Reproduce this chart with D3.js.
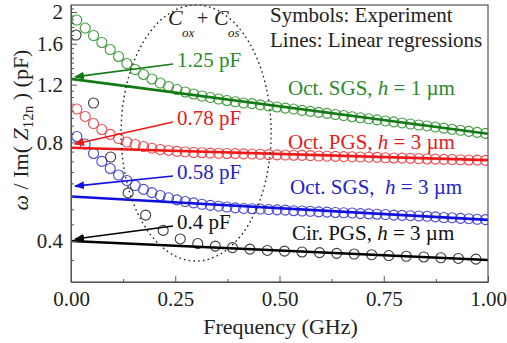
<!DOCTYPE html>
<html><head><meta charset="utf-8">
<script src="https://cdn.jsdelivr.net/npm/d3@7"></script>
<style>
html,body{margin:0;padding:0;background:#fff;}
svg{display:block;font-family:"Liberation Serif","Times New Roman",serif;}
</style></head><body>
<svg id="chart" width="507" height="343"></svg>
<script>
// Frequency sweep (GHz) for the octagonal inductors
const freqOct = [0.014,0.034,0.054,0.074,0.094,0.114,0.134,0.154,0.174,0.194,
  0.214,0.234,0.254,0.274,0.294,0.314,0.334,0.354,0.374,0.394,
  0.414,0.434,0.454,0.474,0.494,0.514,0.534,0.554,0.574,0.594,
  0.614,0.634,0.654,0.674,0.694,0.714,0.734,0.754,0.774,0.794,
  0.814,0.834,0.854,0.874,0.894,0.914,0.934,0.954,0.974,0.994];
// Frequency sweep (GHz) for the circular inductor
const freqCir = [0.012,0.054,0.095,0.137,0.179,0.221,0.262,0.304,0.346,0.387,0.429,0.471,
  0.512,0.554,0.596,0.637,0.679,0.721,0.762,0.804,0.846,0.887,0.929,0.971];

// Measured omega / Im(Z12n) in pF
const octSgs1 = [1.889,1.786,1.695,1.614,1.536,1.463,1.392,1.335,1.289,1.249,
  1.214,1.185,1.160,1.140,1.124,1.108,1.096,1.085,1.074,1.064,
  1.055,1.050,1.041,1.033,1.026,1.018,1.011,1.002,0.995,0.988,
  0.981,0.973,0.966,0.958,0.951,0.944,0.937,0.930,0.924,0.917,
  0.910,0.904,0.898,0.891,0.884,0.877,0.871,0.864,0.858,0.852];
const octPgs3 = [1.011,0.960,0.913,0.876,0.846,0.822,0.802,0.788,0.777,0.768,
  0.761,0.756,0.751,0.748,0.745,0.744,0.742,0.741,0.740,0.739,
  0.738,0.737,0.736,0.734,0.733,0.732,0.731,0.730,0.729,0.727,
  0.726,0.725,0.724,0.723,0.722,0.721,0.720,0.718,0.717,0.716,
  0.715,0.714,0.712,0.711,0.710,0.709,0.708,0.707,0.706,0.705];
const octSgs3 = [0.834,0.791,0.740,0.700,0.666,0.636,0.612,0.591,0.575,0.562,
  0.551,0.542,0.534,0.528,0.523,0.518,0.514,0.511,0.508,0.505,
  0.503,0.502,0.501,0.499,0.498,0.497,0.495,0.494,0.493,0.491,
  0.490,0.489,0.488,0.487,0.485,0.484,0.483,0.482,0.480,0.479,
  0.478,0.477,0.476,0.474,0.472,0.471,0.469,0.468,0.466,0.465];
const cirPgs3 = [1.701,1.055,0.722,0.561,0.480,0.431,0.406,0.393,0.386,0.382,0.378,0.3745,
  0.3726,0.3705,0.3687,0.3669,0.3651,0.3633,0.3612,0.3595,0.3577,0.3557,0.3540,0.3522];

// Linear regression lines, evaluated at 0 and 1 GHz
const fitFreq = [0, 1];
const fitSgs1 = [1.25, 0.85];
const fitPgs3 = [0.77, 0.706];
const fitSgs3 = [0.547, 0.464];
const fitCir = [0.40, 0.350];

// Extrapolated Cox + Cos values (pF)
const interceptLabels = ["1.25 pF", "0.78 pF", "0.58 pF", "0.4 pF"];
const interceptValues = [1.25, 0.78, 0.58, 0.4];

const seriesNames = ["Oct. SGS, h = 1 \u00b5m", "Oct. PGS, h = 3 \u00b5m", "Oct. SGS,  h = 3 \u00b5m", "Cir. PGS, h = 3 \u00b5m"];

const xTickValues = [0, 0.25, 0.5, 0.75, 1];
const xTickLabels = ["0.00", "0.25", "0.50", "0.75", "1.00"];
const yTickValues = [0.4, 0.8, 1.2, 1.6, 2];
const yTickLabels = ["0.4", "0.8", "1.2", "1.6", "2"];

const svg = d3.select("#chart");
const W = 507, H = 343;
const m = {left: 71, right: 19, top: 5, bottom: 61};
const x = d3.scaleLinear().domain([0, 1]).range([m.left, W - m.right]);
const y = d3.scaleLog().domain([0.3, 2.1]).range([H - m.bottom, m.top]);

const styles = [
  {circle: "#3f9c3f", line: "#127a12", text: "#2b8a2b"},
  {circle: "#ec4a4f", line: "#f01818", text: "#e02020"},
  {circle: "#4848d8", line: "#1010e0", text: "#2424c8"},
  {circle: "#3a3a3a", line: "#000000", text: "#111111"}
];
const series = [
  {f: freqOct, v: octSgs1, fit: fitSgs1},
  {f: freqOct, v: octPgs3, fit: fitPgs3},
  {f: freqOct, v: octSgs3, fit: fitSgs3},
  {f: freqCir, v: cirPgs3, fit: fitCir}
];

// Arrowheads
const defs = svg.append("defs");
styles.forEach((s, i) => {
  defs.append("marker").attr("id", "arr" + i)
    .attr("viewBox", "0 0 10 8").attr("refX", 9).attr("refY", 4)
    .attr("markerWidth", 10).attr("markerHeight", 8)
    .attr("markerUnits", "userSpaceOnUse").attr("orient", "auto")
    .append("path").attr("d", "M0,0 L10,4 L0,8 Z").attr("fill", s.line);
});

const plot = svg.append("g");
const clipId = "plotclip";
defs.append("clipPath").attr("id", clipId).append("rect")
  .attr("x", m.left).attr("y", m.top)
  .attr("width", W - m.left - m.right).attr("height", H - m.top - m.bottom);

// Data symbols
series.forEach((s, i) => {
  plot.append("g").attr("clip-path", `url(#${clipId})`)
    .selectAll("circle").data(s.f.map((f, j) => [f, s.v[j]])).join("circle")
    .attr("cx", d => x(d[0])).attr("cy", d => y(d[1])).attr("r", 5)
    .attr("fill", "none").attr("stroke", styles[i].circle).attr("stroke-width", 1.1);
});

// Regression lines
const lineGen = d3.line().x(d => x(d[0])).y(d => y(d[1]));
series.forEach((s, i) => {
  plot.append("path").datum(fitFreq.map((f, j) => [f, s.fit[j]]))
    .attr("d", lineGen).attr("fill", "none")
    .attr("stroke", styles[i].line).attr("stroke-width", 2.6);
});

// Dotted ellipse enclosing the low-frequency region
plot.append("ellipse")
  .attr("cx", x(0.3)).attr("cy", 133).attr("rx", 75).attr("ry", 128)
  .attr("fill", "none").attr("stroke", "#222").attr("stroke-width", 1.4)
  .attr("stroke-dasharray", "1.6,3.2");

// Axes: bottom and left with inward ticks
const xMinor = [0.125, 0.375, 0.625, 0.875];
const yMinor = d3.range(0.35, 2.06, 0.05).map(v => +v.toFixed(2))
  .filter(v => !yTickValues.some(t => Math.abs(t - v) < 1e-6));

const axisColor = "#555";
svg.append("g").attr("transform", `translate(0,${H - m.bottom})`)
  .call(d3.axisBottom(x).tickValues(xTickValues).tickFormat((d, i) => xTickLabels[i])
    .tickSizeInner(-6).tickSizeOuter(0).tickPadding(9));
svg.append("g").attr("transform", `translate(0,${H - m.bottom})`)
  .call(d3.axisBottom(x).tickValues(xMinor).tickFormat("").tickSizeInner(-3).tickSizeOuter(0))
  .call(g => g.select(".domain").remove());
svg.append("g").attr("transform", `translate(${m.left},0)`)
  .call(d3.axisLeft(y).tickValues(yTickValues).tickFormat((d, i) => yTickLabels[i])
    .tickSizeInner(-6).tickSizeOuter(0).tickPadding(8));
svg.append("g").attr("transform", `translate(${m.left},0)`)
  .call(d3.axisLeft(y).tickValues(yMinor).tickFormat("").tickSizeInner(-3).tickSizeOuter(0))
  .call(g => g.select(".domain").remove());

svg.selectAll(".tick line").attr("stroke", axisColor).attr("stroke-width", 1);
svg.selectAll(".domain").attr("stroke", axisColor);
svg.selectAll(".tick text").attr("font-family", '"Liberation Serif", serif')
  .attr("font-size", 21).attr("fill", "#222");

// Frame
svg.append("rect").attr("x", m.left).attr("y", m.top)
  .attr("width", W - m.left - m.right).attr("height", H - m.top - m.bottom)
  .attr("fill", "none").attr("stroke", axisColor).attr("stroke-width", 1.2);

// Axis titles
svg.append("text").attr("x", (m.left + W - m.right) / 2 + 1).attr("y", 334)
  .attr("text-anchor", "middle").attr("font-size", 22).attr("fill", "#222")
  .text("Frequency (GHz)");

const yt = svg.append("text").attr("transform", "translate(28,130) rotate(-90)")
  .attr("text-anchor", "middle").attr("font-size", 22).attr("fill", "#222");
yt.append("tspan").attr("font-style", "italic").text("\u03c9");
yt.append("tspan").text(" / Im( ");
yt.append("tspan").attr("font-style", "italic").text("Z");
yt.append("tspan").attr("font-size", 15).attr("dy", 5).text("12n");
yt.append("tspan").attr("dy", -5).text(" ) (pF)");

// Legend notes
svg.append("text").attr("x", 270).attr("y", 22).attr("font-size", 21).attr("fill", "#222")
  .text("Symbols: Experiment");
svg.append("text").attr("x", 270).attr("y", 47).attr("font-size", 21).attr("fill", "#222")
  .text("Lines: Linear regressions");

// Series names
const nameX = [288, 288, 290, 292];
const nameY = [95, 149, 194, 240];
seriesNames.forEach((n, i) => {
  const parts = n.split("h");
  const t = svg.append("text").attr("x", nameX[i]).attr("y", nameY[i])
    .attr("font-size", 21).attr("fill", styles[i].text).attr("xml:space", "preserve");
  t.append("tspan").text(parts[0]);
  t.append("tspan").attr("font-style", "italic").text("h");
  t.append("tspan").text(parts[1]);
});

// Intercept annotations with arrows toward the axis
const labelY = [67, 125, 179, 229];
interceptLabels.forEach((lab, i) => {
  svg.append("text").attr("x", 177).attr("y", labelY[i]).attr("font-size", 21)
    .attr("fill", styles[i].text).text(lab);
  svg.append("line")
    .attr("x1", 173).attr("y1", labelY[i] - 3)
    .attr("x2", x(0) + 4).attr("y2", y(interceptValues[i]) - 2)
    .attr("stroke", styles[i].line).attr("stroke-width", 1.6)
    .attr("marker-end", `url(#arr${i})`);
});

// Cox + Cos label
const cl = svg.append("g").attr("fill", "#222");
cl.append("text").attr("x", 168).attr("y", 25).attr("font-size", 22).attr("font-style", "italic").text("C");
cl.append("text").attr("x", 182).attr("y", 37).attr("font-size", 13).attr("font-style", "italic").text("ox");
cl.append("text").attr("x", 197).attr("y", 25).attr("font-size", 20).text("+");
cl.append("text").attr("x", 214).attr("y", 25).attr("font-size", 22).attr("font-style", "italic").text("C");
cl.append("text").attr("x", 228).attr("y", 37).attr("font-size", 13).attr("font-style", "italic").text("os");
</script>
</body></html>
